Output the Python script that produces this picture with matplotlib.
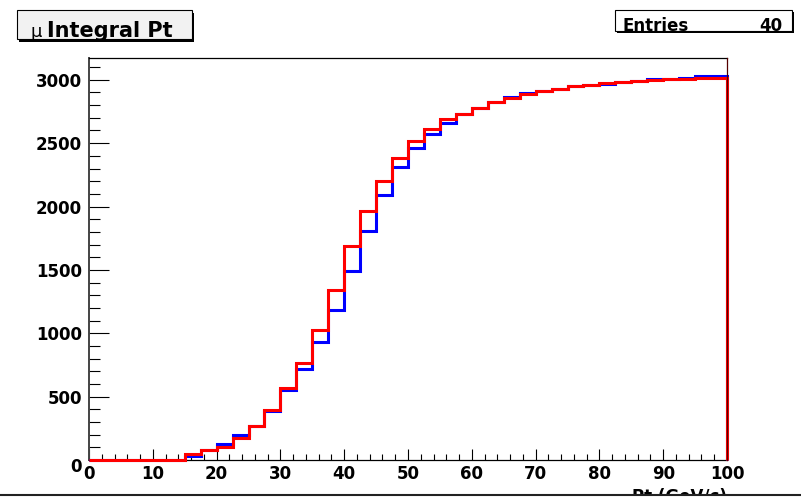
import numpy as np
import matplotlib
matplotlib.use("Agg")
import matplotlib.pyplot as plt
from matplotlib.patches import Rectangle
from matplotlib.lines import Line2D
from matplotlib.ticker import MultipleLocator, FuncFormatter

# ---------------- data ----------------
pt_edges = np.arange(0, 102.5, 2.5)          # 40 bins, 0..100 GeV/c
blue_integral = [0, 0, 0, 0, 0, 0, 34, 76, 129, 195,
                 268, 389, 550, 720, 933, 1184, 1489, 1807, 2088, 2309,
                 2459, 2572, 2661, 2730, 2777, 2822, 2866, 2898, 2911, 2930,
                 2951, 2961, 2967, 2982, 2993, 3006, 3008, 3016, 3030, 3030]
red_integral = [0, 0, 0, 0, 0, 0, 47, 79, 100, 171,
                268, 395, 566, 769, 1028, 1344, 1691, 1965, 2203, 2383,
                2519, 2614, 2688, 2730, 2777, 2822, 2854, 2888, 2911, 2930,
                2951, 2961, 2977, 2982, 2993, 2998, 3004, 3008, 3016, 3016]
title_text = "Integral Pt"
entries = 40
x_label = "Pt (GeV/c)"

# ---------------- figure ----------------
W, H = 801, 498
plt.rcParams["font.family"] = ["DejaVu Sans"]
fig = plt.figure(figsize=(W / 100, H / 100), dpi=100)
fig.patch.set_facecolor("white")

def fx(px):
    return px / W

def fy(py):
    return 1 - py / H

ax = fig.add_axes([fx(89), fy(460), (727 - 89) / W, (460 - 58) / H])
ax.stairs(blue_integral, pt_edges, baseline=0, color="#0000ff", lw=2.2, clip_on=False, zorder=3)
ax.stairs(red_integral, pt_edges, baseline=0, color="#ff0000", lw=2.2, clip_on=False, zorder=4)
ax.set_xlim(0, 100)
ax.set_ylim(0, 3172)

ax.xaxis.set_major_locator(MultipleLocator(10))
ax.xaxis.set_minor_locator(MultipleLocator(2))
ax.yaxis.set_major_locator(MultipleLocator(500))
ax.yaxis.set_minor_locator(MultipleLocator(100))
ax.tick_params(axis="x", which="major", direction="in", length=8, width=0.8, pad=3.4,
               labelsize=12, top=False)
ax.tick_params(axis="x", which="minor", direction="in", length=4.3, width=0.8, top=False)
ax.tick_params(axis="y", which="major", direction="in", length=14.4, width=0.8, pad=5,
               labelsize=12, right=False)
ax.tick_params(axis="y", which="minor", direction="in", length=7.9, width=0.8, right=False)
ax.yaxis.set_major_formatter(FuncFormatter(lambda v, p: "" if v == 0 else f"{v:.0f}"))
for lab in ax.get_xticklabels() + ax.get_yticklabels():
    lab.set_fontweight("bold")
for s in ["left", "top", "right", "bottom"]:
    ax.spines[s].set_color("black")
    ax.spines[s].set_linewidth(0.9)
ax.spines["left"].set_color("#444444")
ax.spines["left"].set_linewidth(1.4)
ax.spines["right"].set_zorder(5)
ax.spines["right"].set_color("#550000")

# y "0" label placed like ROOT does (slightly lowered)
fig.text(fx(82), fy(467), "0", ha="right", va="center", fontsize=12, fontweight="bold")

# ---------------- title box ----------------
fig.add_artist(Rectangle((fx(19), fy(42)), (192 - 17) / W, (39 - 10) / H,
                         transform=fig.transFigure, facecolor="black", edgecolor="none", zorder=5))
fig.add_artist(Rectangle((fx(17), fy(39)), (192 - 17) / W, (39 - 10) / H,
                         transform=fig.transFigure, facecolor="#f2f2f2", edgecolor="black",
                         lw=0.8, zorder=6))
fig.text(fx(31), fy(37), "μ", ha="left", va="baseline", fontsize=13, zorder=7)
fig.text(fx(47), fy(37), title_text, ha="left", va="baseline", fontsize=15,
         fontweight="bold", zorder=7)

# ---------------- stats box ----------------
fig.add_artist(Rectangle((fx(617), fy(33)), (792 - 615) / W, (31 - 10) / H,
                         transform=fig.transFigure, facecolor="black", edgecolor="none", zorder=5))
fig.add_artist(Rectangle((fx(615), fy(31)), (792 - 615) / W, (31 - 10) / H,
                         transform=fig.transFigure, facecolor="white", edgecolor="black",
                         lw=0.8, zorder=6))
fig.text(fx(622), fy(31), "Entries", ha="left", va="baseline", fontsize=12,
         fontweight="bold", zorder=7)
fig.text(fx(782), fy(31), f"{entries}", ha="right", va="baseline", fontsize=12,
         fontweight="bold", zorder=7)

# ---------------- x label (cut by canvas edge) ----------------
fig.text(fx(727), fy(488), x_label, ha="right", va="top", fontsize=12,
         fontweight="bold", zorder=7)
fig.add_artist(Rectangle((0, 0), 1, fy(494), transform=fig.transFigure,
                         facecolor="white", edgecolor="none", zorder=20))
fig.add_artist(Line2D([0, 1], [fy(495), fy(495)], transform=fig.transFigure,
                      color="#222222", lw=1.5, zorder=21))

fig.savefig("out.png", dpi=100)
